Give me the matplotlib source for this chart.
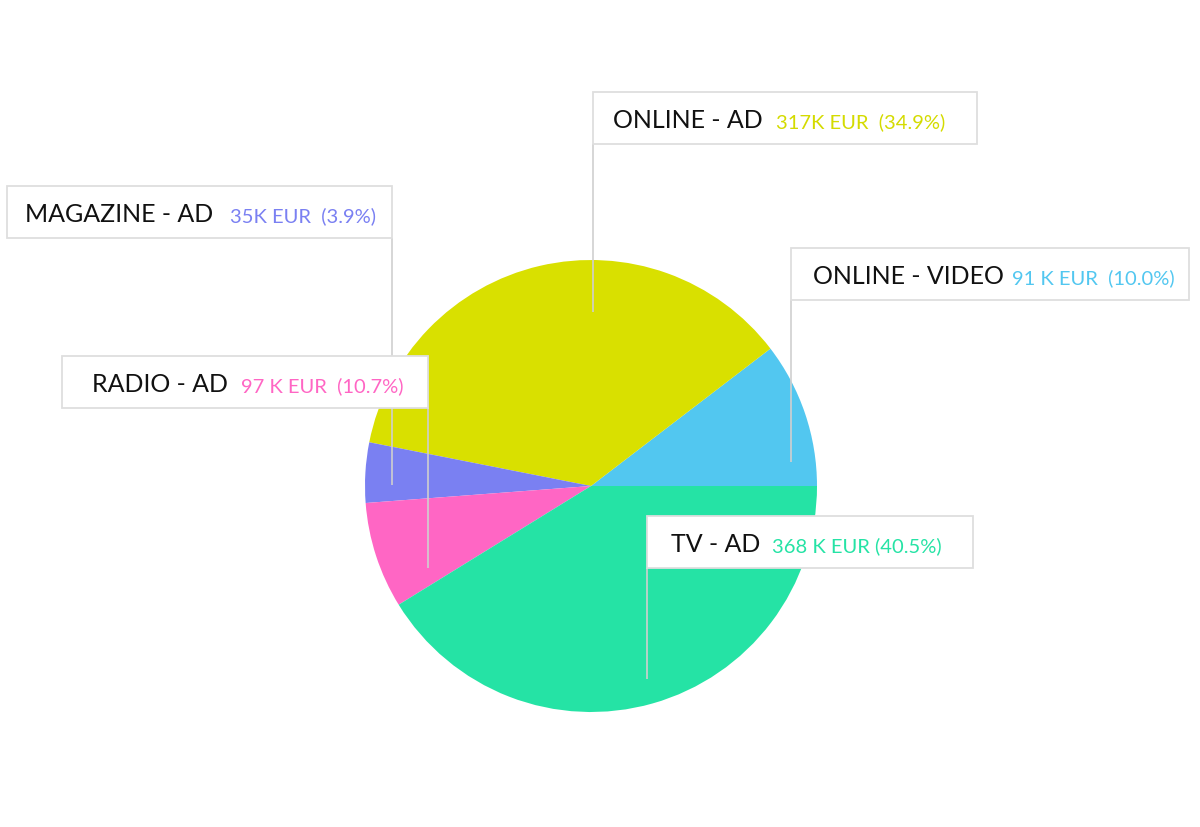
import matplotlib
matplotlib.use("Agg")
import matplotlib.pyplot as plt
from matplotlib.patches import Rectangle

# slice shares as drawn (counterclockwise from 3 o'clock)
names = ["ONLINE - VIDEO", "ONLINE - AD", "MAGAZINE - AD", "RADIO - AD", "TV - AD"]
shares = [10.4, 36.5, 4.3, 7.6, 41.2]
value_labels = ["91 K EUR  (10.0%)", "317K EUR  (34.9%)", "35K EUR  (3.9%)",
                "97 K EUR  (10.7%)", "368 K EUR (40.5%)"]
colors = ["#52c7f0", "#d9e000", "#7a80f2", "#ff66c4", "#25e3a5"]
text_colors = ["#52c7f0", "#d4db00", "#7a80f2", "#ff66c4", "#25e3a5"]

W, H = 1200, 828
fig = plt.figure(figsize=(12, 8.28), dpi=100)
ax = fig.add_axes([0, 0, 1, 1])

def Y(py):
    # pixel row -> data y
    return H - py

ax.pie(shares, colors=colors, startangle=0, counterclock=True,
       center=(591, Y(487)), radius=226, frame=True,
       wedgeprops=dict(linewidth=0))
ax.set_xlim(0, W)
ax.set_ylim(0, H)
ax.set_aspect("equal")
ax.axis("off")

# box: (left, top, right, bottom), leader line x, leader end y, name x, value x
layout = {
    "ONLINE - AD":    ((593, 93, 977, 145), 593, 313, 613, 776),
    "MAGAZINE - AD":  ((7, 187, 392, 239), 392, 486, 25, 230),
    "ONLINE - VIDEO": ((791, 249, 1189, 301), 791, 463, 813, 1012),
    "RADIO - AD":     ((62, 357, 428, 409), 428, 569, 92, 241),
    "TV - AD":        ((647, 517, 973, 569), 647, 680, 671, 772),
}

for i, name in enumerate(names):
    (l, t, r, b), lx, ly, nx, vx = layout[name]
    ax.plot([lx, lx], [Y(b), Y(ly)], color="#cfcfcf", lw=1.2, zorder=3,
            solid_capstyle="butt")
    ax.add_patch(Rectangle((l, Y(b)), r - l, b - t, facecolor="white",
                           edgecolor="#dedede", lw=1.3, zorder=4))
    base = Y((t + b) / 2 + 9)
    ax.text(nx, base, name, fontsize=18, family="Lato", color="#111111",
            va="baseline", ha="left", zorder=5)
    ax.text(vx, base, value_labels[i], fontsize=14.5, family="Lato",
            color=text_colors[i], va="baseline", ha="left", zorder=5)

fig.savefig("out.png", dpi=100, facecolor="white")
